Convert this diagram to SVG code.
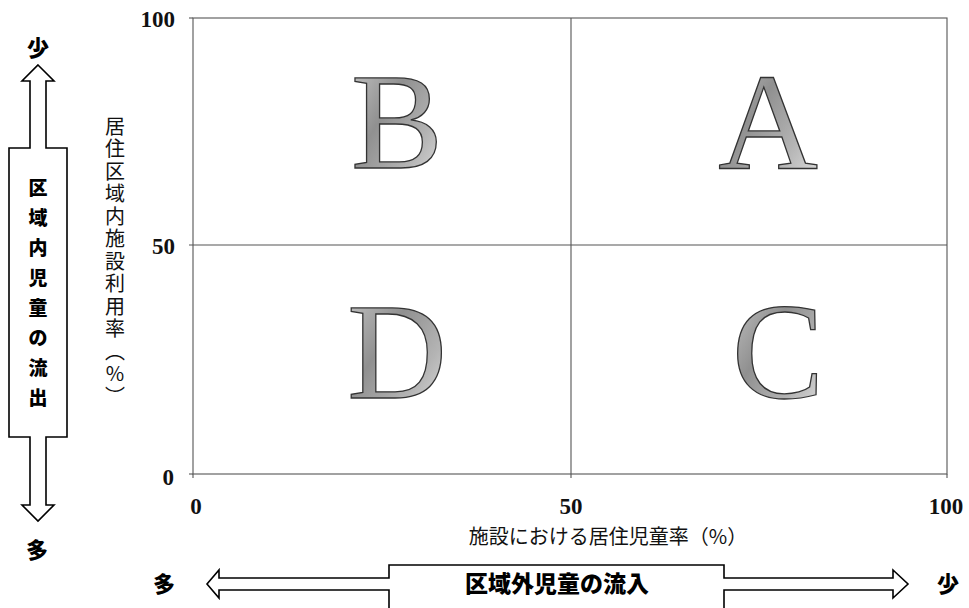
<svg xmlns="http://www.w3.org/2000/svg" width="969" height="608" viewBox="0 0 969 608">
<style>
.grid{stroke:#555;stroke-width:1.1;fill:none}
.num{font-family:"Liberation Serif",serif;font-weight:bold;font-size:23px;fill:#111}
.jp{font-family:"Noto Sans CJK JP",sans-serif;font-size:20px;fill:#111}
.jpb{font-family:"Noto Sans CJK JP",sans-serif;font-weight:900;fill:#000}
.big{font-family:"Liberation Serif",serif;font-size:138px;fill:url(#gr);stroke:#333;stroke-width:1.3;text-anchor:middle}
.arrow{fill:#fff;stroke:#000;stroke-width:1.6;stroke-linejoin:miter}
</style>
<defs>
<linearGradient id="gr" x1="0" y1="0" x2="1" y2="1">
<stop offset="0" stop-color="#cdcdcd"/>
<stop offset="0.4" stop-color="#909090"/>
<stop offset="0.7" stop-color="#b4b4b4"/>
<stop offset="1" stop-color="#e8e8e8"/>
</linearGradient>
</defs>
<rect width="969" height="608" fill="#fff"/>
<g id="plot">
<rect class="grid" x="193" y="18" width="754" height="456"/>
<line class="grid" x1="571" y1="18" x2="571" y2="478"/>
<line class="grid" x1="189" y1="245" x2="947" y2="245"/>
<line class="grid" x1="189" y1="18" x2="193" y2="18"/>
<line class="grid" x1="189" y1="474" x2="193" y2="474"/>
<line class="grid" x1="193" y1="474" x2="193" y2="478"/>
<line class="grid" x1="947" y1="474" x2="947" y2="478"/>
</g>
<g id="axis-labels">
<text class="num" x="175" y="27" text-anchor="end">100</text>
<text class="num" x="175" y="254" text-anchor="end">50</text>
<text class="num" x="174" y="485" text-anchor="end">0</text>
<text class="num" x="196" y="514" text-anchor="middle">0</text>
<text class="num" x="571" y="514" text-anchor="middle">50</text>
<text class="num" x="946" y="514" text-anchor="middle">100</text>
<text class="jp" x="608" y="544" text-anchor="middle">施設における居住児童率（%）</text>
<text class="jp" x="115" y="116" font-size="21" style="writing-mode:vertical-rl;text-orientation:upright" letter-spacing="2.5">居住区域内施設利用率（%）</text>
</g>
<g id="quadrant-B"><text class="big" x="397" y="168">B</text></g>
<g id="quadrant-A"><text class="big" x="768" y="168">A</text></g>
<g id="quadrant-D"><text class="big" x="397" y="398">D</text></g>
<g id="quadrant-C"><text class="big" x="778" y="398">C</text></g>
<g id="connectors">
<path class="arrow" d="M38,65 L54,81 L46,81 L46,148 L67,148 L67,437 L46,437 L46,505 L54,505 L38,521 L22,505 L30,505 L30,437 L9,437 L9,148 L30,148 L30,81 L22,81 Z"/>
<path class="arrow" d="M389,612 L389,590 L219,590 L219,598 L207,584 L219,570 L219,578 L389,578 L389,565 L724,565 L724,578 L893,578 L893,570 L908,584 L893,598 L893,590 L724,590 L724,612"/>
</g>
<g id="outflow-label">
<text class="jpb" x="38" y="56" font-size="22" text-anchor="middle">少</text>
<text class="jpb" font-size="19" text-anchor="middle">
<tspan x="38" y="195">区</tspan><tspan x="38" y="225">域</tspan><tspan x="38" y="255">内</tspan><tspan x="38" y="285">児</tspan><tspan x="38" y="315">童</tspan><tspan x="38" y="345">の</tspan><tspan x="38" y="375">流</tspan><tspan x="38" y="405">出</tspan>
</text>
<text class="jpb" x="37" y="558" font-size="22" text-anchor="middle">多</text>
</g>
<g id="inflow-label">
<text class="jpb" x="164" y="592" font-size="22" text-anchor="middle">多</text>
<text class="jpb" x="557" y="592" font-size="23" text-anchor="middle">区域外児童の流入</text>
<text class="jpb" x="948" y="592" font-size="22" text-anchor="middle">少</text>
</g>
</svg>
